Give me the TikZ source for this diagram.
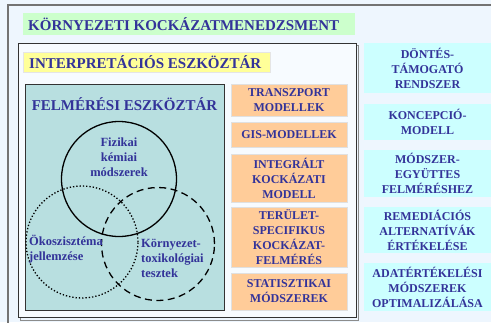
\documentclass[tikz,border=0pt]{standalone}
\usepackage{fontspec}
\setmainfont{Liberation Serif}
\definecolor{bg}{HTML}{EEF6FE}
\definecolor{txt}{HTML}{333399}
\definecolor{grn}{HTML}{CCFFCC}
\definecolor{yel}{HTML}{FFFF99}
\definecolor{org}{HTML}{FFCC99}
\definecolor{cyn}{HTML}{CCFFFF}
\definecolor{teal}{HTML}{B8DFE0}
\definecolor{lite}{HTML}{F7FBFF}
\tikzset{
  big/.style={font=\fontsize{15}{18}\selectfont\bfseries, text=txt},
  lab/.style={font=\fontsize{12}{15}\selectfont\bfseries, text=txt, align=center, inner sep=0pt},
  venn/.style={font=\fontsize{12.5}{15}\selectfont\bfseries, text=txt, inner sep=0pt},
  obox/.style={lab, rectangle, fill=org, draw=black!12, line width=0.8pt, minimum width=116pt},
  cbox/.style={lab, rectangle, fill=cyn, minimum width=127pt},
  ring/.style={circle, draw=black, line width=1.3pt, inner sep=0pt}
}
\begin{document}
\begin{tikzpicture}[x=1pt,y=-1pt]
\useasboundingbox (0,0) rectangle (491,322);
\fill[bg] (0,0) rectangle (491,322);
% outer frame
\draw[black!55, line width=1.2pt] (8,330) -- (8,5) -- (500,5);
% title
\node[fill=grn, anchor=north west, minimum width=332pt, minimum height=22pt, inner sep=0pt] (title) at (23,13) {};
\node[big, anchor=west, inner sep=0pt] (titletext) at (28,24) {KÖRNYEZETI KOCKÁZATMENEDZSMENT};
% interpretation box
\draw[black!45, line width=1pt] (20,45) rectangle (358,320);
\node[draw=black!80, fill=lite, line width=1pt, anchor=north west, minimum width=338pt, minimum height=274pt, inner sep=0pt] (interp) at (18,43) {};
\node[fill=yel, draw=black!10, anchor=north west, minimum width=247pt, minimum height=20pt, inner sep=0pt] (ititle) at (23,52) {};
\node[big, anchor=west, inner sep=0pt] (ititletext) at (29,62) {INTERPRETÁCIÓS ESZKÖZTÁR};
% survey box
\node[draw=black!80, fill=teal, line width=1pt, anchor=north west, minimum width=199pt, minimum height=226pt, inner sep=0pt] (felm) at (25,84) {};
\node[big, inner sep=0pt] (ftitle) at (124.5,104) {FELMÉRÉSI ESZKÖZTÁR};
% circles
\node[ring, minimum size=115pt] (c1) at (119,179) {};
\node[ring, dotted, minimum size=112pt] (c2) at (82,242) {};
\node[ring, dash pattern=on 7pt off 4.5pt, minimum size=113pt] (c3) at (158,244) {};
\node[venn, align=center] (t1) at (119,157) {Fizikai\\kémiai\\módszerek};
\node[venn, align=left, anchor=west] (t2) at (29,249.5) {Ökoszisztéma\\jellemzése};
\node[venn, align=left, anchor=west] (t3) at (141,258) {Környezet-\\toxikológiai\\tesztek};
% orange boxes
\node[obox, minimum height=32pt] (o1) at (289,100) {TRANSZPORT\\MODELLEK};
\node[obox, minimum height=25pt] (o2) at (289,134.5) {GIS-MODELLEK};
\node[obox, minimum height=48pt] (o3) at (289,178) {INTEGRÁLT\\KOCKÁZATI\\MODELL};
\node[obox, minimum height=60pt] (o4) at (289,237) {TERÜLET-\\SPECIFIKUS\\KOCKÁZAT-\\FELMÉRÉS};
\node[obox, minimum height=37pt] (o5) at (289,291.5) {STATISZTIKAI\\MÓDSZEREK};
% cyan boxes
\node[cbox, minimum height=50pt] (k1) at (427.5,68) {DÖNTÉS-\\TÁMOGATÓ\\RENDSZER};
\node[cbox, minimum height=36pt] (k2) at (427.5,122) {KONCEPCIÓ-\\MODELL};
\node[cbox, minimum height=47pt] (k3) at (427.5,173.5) {MÓDSZER-\\EGYÜTTES\\FELMÉRÉSHEZ};
\node[cbox, minimum height=46pt] (k4) at (427.5,230) {REMEDIÁCIÓS\\ALTERNATÍVÁK\\ÉRTÉKELÉSE};
\node[cbox, minimum height=48pt] (k5) at (427.5,287) {ADATÉRTÉKELÉSI\\MÓDSZEREK\\OPTIMALIZÁLÁSA};
\end{tikzpicture}
\end{document}
